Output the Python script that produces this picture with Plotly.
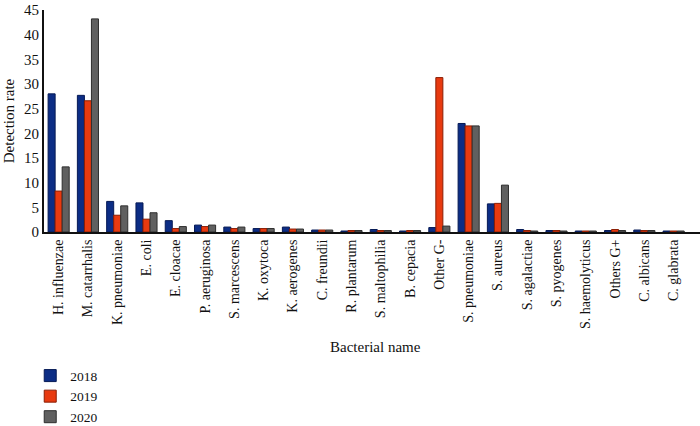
import plotly.graph_objects as go

categories = ["H. influenzae", "M. catarrhalis", "K. pneumoniae", "E. coli", "E. cloacae",
              "P. aeruginosa", "S. marcescens", "K. oxytoca", "K. aerogenes", "C. freundii",
              "R. plantarum", "S. maltophilia", "B. cepacia", "Other G-", "S. pneumoniae",
              "S. aureus", "S. agalactiae", "S. pyogenes", "S. haemolyticus", "Others G+",
              "C. albicans", "C. glabrata"]

y2018 = [28.0, 27.7, 6.2, 5.9, 2.3, 1.4, 1.0, 0.7, 1.0, 0.4, 0.2, 0.5, 0.2, 0.9, 22.0,
         5.7, 0.5, 0.3, 0.2, 0.3, 0.4, 0.2]
y2019 = [8.3, 26.6, 3.4, 2.6, 0.7, 1.1, 0.7, 0.7, 0.6, 0.4, 0.3, 0.3, 0.3, 31.3, 21.5,
         5.8, 0.3, 0.3, 0.2, 0.5, 0.3, 0.2]
y2020 = [13.2, 43.2, 5.3, 3.9, 1.1, 1.4, 1.0, 0.7, 0.6, 0.4, 0.3, 0.3, 0.3, 1.2, 21.5,
         9.5, 0.2, 0.2, 0.2, 0.3, 0.3, 0.2]

series = [("2018", y2018, "#0c2d85", "#061a55"),
          ("2019", y2019, "#e83a10", "#8a1e05"),
          ("2020", y2020, "#606060", "#2e2e2e")]

FONT = "Liberation Serif"

fig = go.Figure()
for name, vals, col, edge in series:
    fig.add_trace(go.Bar(x=categories, y=vals, name=name, legendgroup=name,
                         marker=dict(color=col, line=dict(color=edge, width=1))))

fig.update_layout(
    width=700, height=426,
    margin=dict(l=44, r=0, t=10, b=194, autoexpand=False),
    paper_bgcolor="white", plot_bgcolor="white",
    barmode="group", bargap=0.28, bargroupgap=0,
    font=dict(family=FONT, size=15, color="#111"),
    showlegend=True,
    legend=dict(x=-0.021, y=-0.578, xanchor="left", yanchor="top",
                orientation="v", font=dict(family=FONT, size=13.5),
                tracegroupgap=0, bgcolor="rgba(0,0,0,0)"),
)
fig.update_xaxes(range=[-0.5, 21.9], tickangle=-90, showline=True, linecolor="#111",
                 linewidth=2, ticks="", showgrid=False, automargin=False,
                 tickfont=dict(family=FONT, size=14))
fig.update_yaxes(range=[0, 45], dtick=5, showline=True, linecolor="#111", linewidth=2,
                 ticks="", showgrid=False, zeroline=False, automargin=False,
                 tickfont=dict(family=FONT, size=15),
                 title=dict(text="Detection rate", font=dict(family=FONT, size=15), standoff=6))
fig.add_annotation(text="Bacterial name", xref="paper", yref="paper", x=0.505, y=-0.518,
                   xanchor="center", yanchor="middle", showarrow=False,
                   font=dict(family=FONT, size=15))

fig.write_html("out.html", config={"displayModeBar": False},
               post_script="document.body.style.margin='0px';"
                           "document.documentElement.style.overflow='hidden';")
